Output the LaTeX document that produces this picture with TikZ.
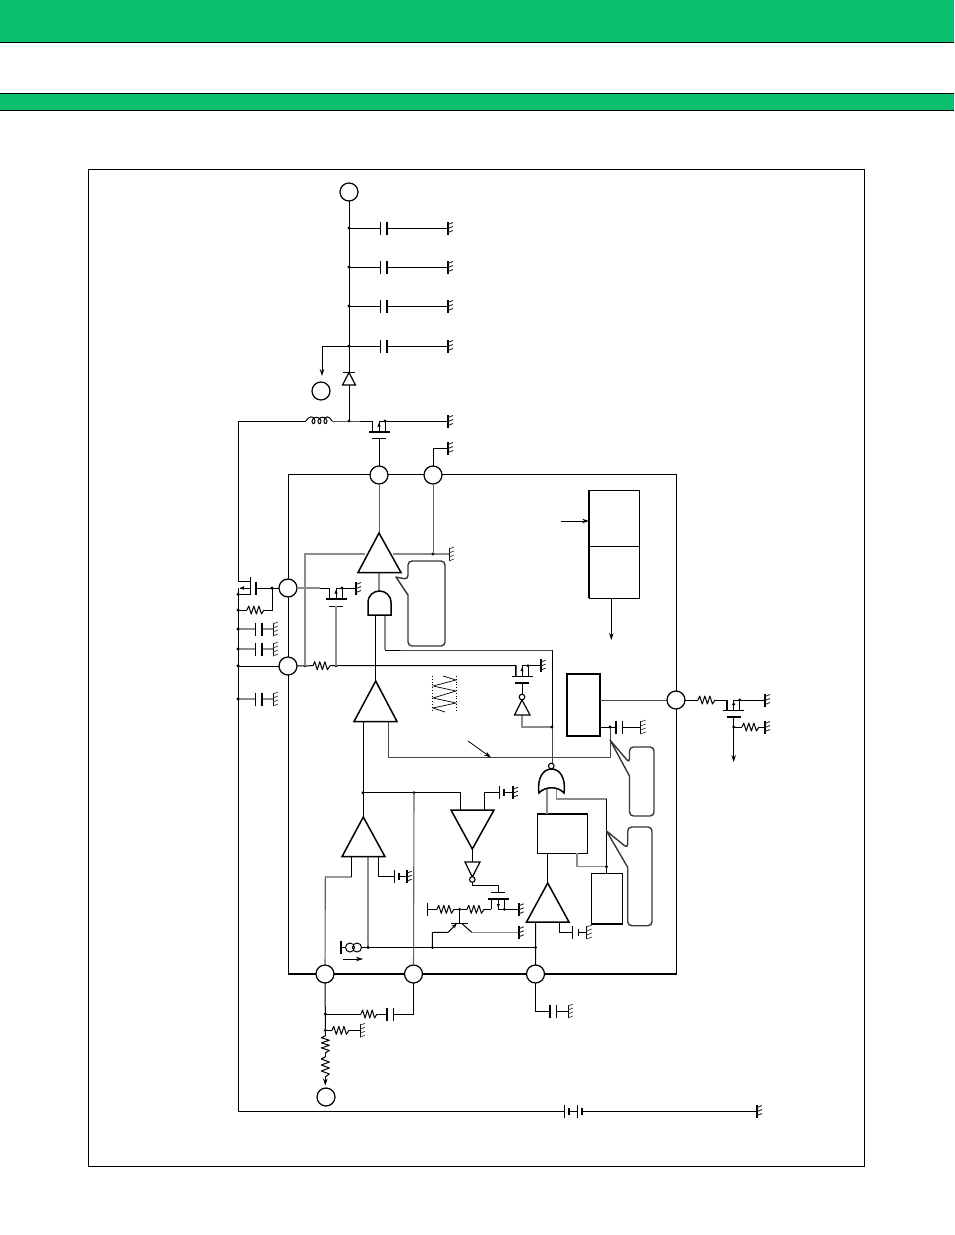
\documentclass[tikz,border=0pt]{standalone}
\usetikzlibrary{arrows.meta}
\definecolor{fjgreen}{RGB}{13,192,112}
\definecolor{gw}{RGB}{140,140,140}
\definecolor{dk}{RGB}{70,70,70}
\tikzset{
  wire/.style={line width=1pt,black,line join=miter},
  gwire/.style={line width=1.1pt,gw},
  dwire/.style={line width=1pt,dk},
  pin/.style={circle,draw=black,line width=1.25pt,fill=white,minimum size=18pt,inner sep=0pt,outer sep=0pt},
  blk/.style={rectangle,draw=black,line width=1pt,fill=white,inner sep=0pt,outer sep=0pt},
  tri/.style={draw=black,line width=1.5pt,fill=white,line join=miter},
  callout/.style={draw=dk!80!black,line width=1.4pt,fill=white,line join=round},
  arr/.style={line width=0.9pt,black,-{Stealth[length=7pt,width=4.5pt]}},
}
% junction dot
\newcommand\Dot[1]{\fill (#1) circle (1.6pt);}
% capacitor / bar plate
\newcommand\Pl[4]{\draw[line width=#4pt,black] (#1,#2-#3) -- (#1,#2+#3);}
% ground: x y ; thick bar with ticks
\newcommand\GndK[2]{\draw[line width=2pt,black] (#1,#2-6.5) -- (#1,#2+6.5);
  \draw[line width=0.9pt,black!85] (#1,#2-3.5) -- +(5,-2) (#1,#2+0.5) -- +(5,-2) (#1,#2+4.5) -- +(5,-2);}
\newcommand\GndT[2]{\draw[line width=0.9pt,black] (#1,#2-6.5) -- (#1,#2+6.5);
  \draw[line width=0.8pt,black!70] (#1,#2-5) -- +(5,-2) (#1,#2-1) -- +(5,-2) (#1,#2+3) -- +(5,-2) (#1,#2+7) -- +(5,-2);}
% resistors: x y width
\newcommand\ResH[3]{\begin{scope}[shift={(#1,#2)},xscale=#3]
  \draw[line width=1pt,black,line join=round] (0,0)--(.1,-4)--(.25,4)--(.4,-4)--(.55,4)--(.7,-4)--(.85,4)--(1,0);\end{scope}}
\newcommand\ResV[3]{\begin{scope}[shift={(#1,#2)},yscale=#3]
  \draw[line width=1pt,black,line join=round] (0,0)--(-4,.1)--(4,.25)--(-4,.4)--(4,.55)--(-4,.7)--(4,.85)--(0,1);\end{scope}}
% fet: cx ysrc ybar barlw gatey gatelw
\newcommand\Fet[6]{\draw[wire] (#1-7,#2) -- (#1-7,#3) (#1+6,#2) -- (#1+6,#3) (#1,#3) -- (#1,#2);
  \fill (#1-1.6,{(#2+#3)/2}) -- (#1+1.6,{(#2+#3)/2}) -- (#1,{(#2+#3)/2+(#2-#3)/3}) -- cycle;
  \draw[line width=#4pt,black] (#1-10.5,#3) -- (#1+10.5,#3);
  \draw[line width=#6pt,black] (#1-7,#5) -- (#1+7,#5);
  \fill (#1+6,#2) circle (1.6pt);}
\begin{document}
\begin{tikzpicture}[x=1pt,y=-1pt]
\useasboundingbox (0,0) rectangle (954,1235);
% header bands
\fill[fjgreen] (0,0) rectangle (954,42);
\fill[fjgreen] (0,93) rectangle (954,110);
\draw[line width=1pt,black] (0,42) -- (954,42) (0,93) -- (954,93) (0,110) -- (954,110);
% frames
\node[rectangle,draw=black,line width=0.8pt,inner sep=0,outer sep=0,minimum width=776pt,minimum height=997pt] (Frame) at (476,667.5) {};
\node[rectangle,draw=black,line width=0.9pt,inner sep=0,outer sep=0,minimum width=388pt,minimum height=500pt] (IC) at (482,724) {};
\draw[line width=2pt,black] (IC.south west) -- (IC.south east);
% pins
\node[pin] (Pvo) at (349,192) {};
\node[pin] (Pa) at (321,391) {};
\node[pin] (Pout) at (379,475) {};
\node[pin] (Ppg) at (433,475) {};
\node[pin] (Pl) at (288,588) {};
\node[pin] (Pv) at (288,666) {};
\node[pin] (Pr) at (676,700) {};
\node[pin] (Pin) at (325,974) {};
\node[pin] (Pfb) at (413.5,974) {};
\node[pin] (Pcs) at (535.5,974) {};
\node[pin] (Pb) at (326,1097) {};
% blocks
\node[blk,minimum width=50.5pt,minimum height=56.3pt] (BoxU) at (614.3,518.2) {};
\node[blk,minimum width=50.5pt,minimum height=51.7pt] (BoxL) at (614.3,572.2) {};
\draw[line width=1.8pt,black] (589,490) -- (589,598);
\node[blk,line width=2pt,minimum width=33.5pt,minimum height=62pt] (BoxD) at (583.7,705) {};
\node[blk,minimum width=50pt,minimum height=39.5pt] (BoxA) at (562.5,833.5) {};
\draw[line width=2pt,black] (BoxA.north west) -- (BoxA.north east);
\node[blk,minimum width=31pt,minimum height=51pt] (BoxB) at (607,898.5) {};
\draw[line width=1.8pt,black] (BoxB.north east) -- (BoxB.south east) -- (BoxB.south west);
% coordinates
\coordinate (J1) at (349,228);
\coordinate (J2) at (349,267);
\coordinate (J3) at (349,306);
\coordinate (J4) at (349,346);
\coordinate (J5) at (349,421);
\coordinate (LL) at (238,421);
\coordinate (LB) at (238,1111);
\coordinate (J7) at (433,554);
\coordinate (J8) at (305,665.7);
\coordinate (J9) at (336,665.7);
\coordinate (J10) at (272,588);
\coordinate (J11) at (552,727);
\coordinate (J12) at (363,792.7);
\coordinate (J13) at (414,792.7);
\coordinate (J14) at (368,947.5);
\coordinate (J15) at (432.5,947.5);
\coordinate (J16) at (535.5,947.5);
\coordinate (J17) at (606.5,866.7);
\coordinate (J18) at (610,727);
\coordinate (J19) at (459.7,909.3);
\coordinate (J20) at (325.3,1014);
\coordinate (J21) at (325.3,1030.3);
\coordinate (J22) at (733.7,727);
%%% wires
% top rail
\draw[wire] (Pvo) -- (349,372) (349,385) -- (J5);
\foreach \j in {J1,J2,J3,J4} {\draw[wire] (\j) -- ++(31,0) ++(7,0) -- ++(61,0);\Dot{\j}}
\draw[wire] (J4) -| (322,360);
\draw[arr] (322,360) -- (322,376);
\foreach \y in {228,267,306,346} {\Pl{380.5}{\y}{6.5}{0.9}\Pl{387}{\y}{6.5}{2}\GndK{448}{\y}}
% inductor rail
\draw[wire] (LL) -- (306,421) (332,421) -- (J5) -- (372,421);
\draw[wire] (379,421) -- (448,421);
\GndK{448}{421}
\draw[wire] (306,421) .. controls (308,416) and (315,415) .. (315,421) .. controls (315,424.5) and (312,424.5) .. (312,421)
  .. controls (312,416) and (321,416) .. (321,421) .. controls (321,424.5) and (318,424.5) .. (318,421)
  .. controls (318,416) and (327,416) .. (327,421) .. controls (327,424.5) and (324,424.5) .. (324,421)
  .. controls (324,415) and (330,416) .. (332,421);
\Fet{379}{421}{432}{2}{438}{0.9}
\draw[wire] (379,438) -- (Pout);
\Dot{J5}
\draw[wire] (Ppg) |- (448,448);
\GndK{448}{448}
\draw[wire] (LL) -- (238,581.7) -- (250,581.7);
\draw[wire] (238,588) -- (LB) -- (564.5,1111);
\draw[wire] (250,588) -- (240,588);
\fill (240,588) -- (244,586.2) -- (244,589.8) -- cycle;
\draw[wire] (238,594.3) -- (250,594.3);
\Dot{238,594.3}
\draw[line width=1pt,black] (250,577.3) -- (250,595);
\draw[line width=2pt,black] (256,582) -- (256,594.5);
\draw[wire] (256,588) -- (Pl);
\Dot{J10}
\draw[wire] (238,610) -- (247,610) (264,610) -- (272,610) -- (J10);
\Dot{238,610}
\ResH{247}{610}{17}
\foreach \y in {629,649,699} {\draw[gwire] (238,\y) -- (255,\y) (262,\y) -- (273,\y);\Dot{238,\y}\Pl{255}{\y}{6.5}{0.9}\Pl{262}{\y}{6.5}{2}\GndT{273}{\y}}
% pin V row
\draw[wire] (LB |- Pv) -- (Pv);
\Dot{238,665.7}
\draw[wire] (Pv) -- (313,665.7) (330,665.7) -- (516,665.7) -- (516,676.7);
\ResH{313}{665.7}{17}
\Dot{J8}\Dot{J9}
\draw[gwire] (J8) |- (365,554);
\draw[gwire] (393,554) -- (J7) -- (449,554);
\Dot{J7}
\GndT{449}{554}
\draw[gwire,gw!70!black,line width=1pt] (Pout) -- (379,533);
\draw[gwire,gw!70!black,line width=1pt] (Ppg) -- (J7);
\draw[gwire] (379,572) -- (379,591);
% pin L to FET B
\draw[gwire] (Pl) -- (320,588);
\draw[wire] (320,588) -- (329,588) -- (329,599);
\draw[wire] (336,588) -- (356,588);
\Fet{336}{588}{599}{2}{606}{0.9}
\GndK{356}{588}
\draw[gwire] (336,606) -- (J9);
% FET C
\draw[wire] (522,665.7) -- (540,665.7);
\Fet{522}{665.7}{676.7}{0.9}{683}{2}
\GndK{540.5}{665.7}
\draw[wire] (522,683) -- (522,694);
\draw[gwire] (522,715) -- (522,727) -- (J11);
\draw[wire] (J11) -- (552,650);
\draw[dwire] (552,650) -- (400,650);
\draw[wire] (400,650) -- (385,650);
\draw[gwire] (385,650) -- (385,615);
\draw[dwire] (J11) -- (552,763);
\Dot{J11}
\draw[wire] (375.7,615) -- (375.7,681);
% sawtooth
\draw[line width=0.8pt,black,dotted] (432.7,676) -- (432.7,712) (456.7,676) -- (456.7,712);
\draw[line width=0.7pt,black] (443,676) -- (456,680) -- (433,686) -- (456,691) -- (433,698) -- (456,703) -- (433,708) -- (445,712);
% triangle 2 outputs
\draw[dwire] (388,721) |- (400,757);
\draw[dwire] (400,757) -- (J18 |- 0,757) -- (J18);
\draw[wire] (BoxD.east |- J18) -- (J18) -- (616,727);
\Dot{J18}
\draw[wire] (622,727) -- (640.7,727);
\Pl{616}{727}{6.5}{2}\Pl{622}{727}{6.5}{0.9}\GndT{640.7}{727}
\draw[arr,line width=0.8pt] (468,741) -- (491,757.5);
\draw[dwire] (BoxD.east |- Pr) -- (Pr);
% upper block arrows
\draw[arr] (561,521) -- (BoxU.west |- 0,521);
\draw[arr] (611.3,598) -- (611.3,640);
% right FET
\draw[wire] (Pr) -- (698,700) (715,700) -- (727,700) -- (727,710);
\ResH{698}{700}{17}
\draw[wire] (733.7,700) -- (765,700);
\Fet{733.7}{700}{710}{0.9}{717}{2}
\GndK{765}{700}
\draw[arr] (733.7,717) -- (733.7,762);
\Dot{J22}
\draw[wire] (J22) -- (742,727) (759,727) -- (765,727);
\ResH{742}{727}{17}
\GndK{765}{727}
% rail 363
\draw[wire] (363,721) -- (363,817);
\Dot{J12}
\draw[wire] (J12) -- (460.7,792.7) -- (460.7,810);
\Dot{J13}
\draw[gwire,gw!70!black] (J13) -- (Pfb);
\draw[wire] (484.3,810) |- (499.7,792.7);
\draw[wire] (504,792.7) -- (513,792.7);
\Pl{499.7}{792.7}{6.5}{0.9}\Pl{504}{792.7}{3.5}{2}\GndK{513}{792.7}
\draw[wire] (472.3,849) -- (472.3,862);
\draw[wire] (472.3,882) -- (472.3,885) -- (498.3,885) -- (498.3,892.7);
\Fet{498.3}{909.3}{898.7}{2}{892.7}{0.9}
\draw[wire] (498.3,909.3) -- (518.7,909.3);
\GndK{518.7}{909.3}
\draw[wire] (491.3,909.3) -- (484,909.3) (467,909.3) -- (454,909.3) (437,909.3) -- (427.7,909.3);
\ResH{467}{909.3}{17}\ResH{437}{909.3}{17}
\Pl{427.7}{909.3}{6.5}{0.9}
\Dot{J19}
\draw[wire] (J19) -- (459.7,923.3);
\draw[line width=1.4pt,black] (451,923.3) -- (468,923.3);
\draw[wire,-{Stealth[length=5pt,width=4pt]}] (448,932.3) -- (456.7,923.6);
\draw[wire] (J15) -- (432.3,932.3) -- (448,932.3);
\draw[wire] (461.7,923.3) -- (471.7,932.3);
\draw[gwire] (471.7,932.3) -- (518.7,932.3);
\GndK{518.7}{932.3}
% triangle 3
\draw[gwire,gw!70!black] (351.7,877) -- (325.3,877) -- (Pin);
\draw[wire] (351.7,857) -- (351.7,877);
\draw[gwire,line width=1.4pt] (368,857) -- (J14);
\draw[wire] (378.7,857) |- (394.7,876.7);
\draw[wire] (399,876.7) -- (406.7,876.7);
\Pl{394.7}{876.7}{6.5}{0.9}\Pl{399}{876.7}{3.5}{2}\GndK{406.7}{876.7}
% current source
\draw[wire] (341,947.5) -- (346,947.5);
\Pl{341}{947.5}{6.5}{1.2}
\draw[wire] (J14) -- (J16);
\draw[wire] (361.5,947.5) -- (J14);
\draw[line width=1pt,black] (350,947.5) circle (4.5pt) (357,947.5) circle (4.5pt);
\Dot{J14}\Dot{J15}\Dot{J16}
\draw[arr,line width=0.7pt] (343,959) -- (363,959);
% triangle 4 + gates
\draw[wire] (535.7,922) -- (Pcs);
\draw[wire] (559.7,922) |- (572.7,932);
\draw[wire] (578,932) -- (586.7,932);
\Pl{572.7}{932}{6.5}{0.9}\Pl{578}{932}{3.5}{0.9}\GndT{586.7}{932}
\draw[wire] (547.7,853) -- (547.7,883);
\draw[gwire] (547,787) -- (547,814);
\draw[gwire] (556.5,787) |- (606.5,799);
\draw[wire] (606.5,799) -- (J17) -- (606.5,873);
\draw[gwire] (577,853) |- (J17);
\Dot{J17}
% lower pins
\draw[wire] (Pin) -- (J20) -- (J21) -- (325.3,1036);
\Dot{J20}\Dot{J21}
\draw[wire] (J20) -- (361,1014) (377,1014) -- (386.7,1014);
\ResH{361}{1014}{16}
\draw[wire] (393.7,1014) -| (Pfb);
\Pl{386.7}{1014}{6.5}{2}\Pl{393.7}{1014}{6.5}{0.9}
\draw[wire] (J21) -- (332,1030.3) (349,1030.3) -- (360,1030.3);
\ResH{332}{1030.3}{17}
\GndT{360}{1030.3}
\ResV{325.3}{1036}{17}
\draw[wire] (325.3,1053) -- (325.3,1057);
\ResV{325.3}{1057}{20}
\draw[arr] (325.3,1077) -- (325.3,1085.5);
\draw[wire] (Pcs) |- (549.7,1011);
\draw[wire] (556.3,1011) -- (568,1011);
\Pl{549.7}{1011}{6.5}{2}\Pl{556.3}{1011}{6.5}{0.9}\GndT{568}{1011}
% battery
\Pl{564.7}{1111}{6.5}{0.9}\draw[wire] (569,1111) -- (577.3,1111);
\Pl{569}{1111}{3.5}{2}\Pl{577.3}{1111}{6.5}{0.9}\Pl{582}{1111}{3.5}{2}
\draw[wire] (582,1111) -- (757,1111);
\GndK{757}{1111}
% diode
\draw[tri,line width=1.2pt] (349,372.5) -- (342.5,385) -- (355.5,385) -- cycle;
\draw[wire] (343,372) -- (355,372);
% triangles
\draw[tri] (379,533) -- (358,572.5) -- (401,572.5) -- cycle;
\draw[tri] (375.7,681) -- (354,721.5) -- (397,721.5) -- cycle;
\draw[tri] (363.3,817) -- (342,856.7) -- (385,856.7) -- cycle;
\draw[tri] (547.7,883) -- (526.5,922) -- (569,922) -- cycle;
\draw[tri] (451,810) -- (494,810) -- (472.3,849) -- cycle;
\draw[tri,line width=1.2pt] (465,862) -- (480,862) -- (472.3,877) -- cycle;
\draw[tri,line width=1.2pt] (522,700) -- (514.5,715) -- (530,715) -- cycle;
% bubbles
\draw[line width=1.1pt,black,fill=white] (472.3,879.5) circle (2.8pt);
\draw[line width=1.1pt,black,fill=white] (522,697) circle (2.8pt);
\draw[line width=1.1pt,black,fill=white] (551.3,766) circle (2.8pt);
% AND
\draw[tri] (368,615) -- (368,603) .. controls (368,587) and (391,587) .. (391,603) -- (391,615) -- cycle;
% NOR
\draw[tri] (539,793) .. controls (537,778) and (543,769) .. (551.5,769) .. controls (560,769) and (566,778) .. (564,793) .. controls (558,786) and (545,786) .. (539,793) -- cycle;
% callouts
\draw[callout] (396,577) -- (408,595) [rounded corners=4pt] -- (408,646) -- (445,646) -- (445,561) -- (408,561) -- (408,579.5) [sharp corners] -- cycle;
\draw[callout] (610,740) -- (629.5,776) [rounded corners=4pt] -- (629.5,816) -- (654,816) -- (654,747) -- (629.5,747) -- (629.5,763) [sharp corners] -- cycle;
\draw[callout] (606.5,831) -- (627.7,867.3) [rounded corners=4pt] -- (627.7,925.7) -- (652,925.7) -- (652,827) -- (627.7,827) -- (627.7,848.3) [sharp corners] -- cycle;
\end{tikzpicture}
\end{document}
